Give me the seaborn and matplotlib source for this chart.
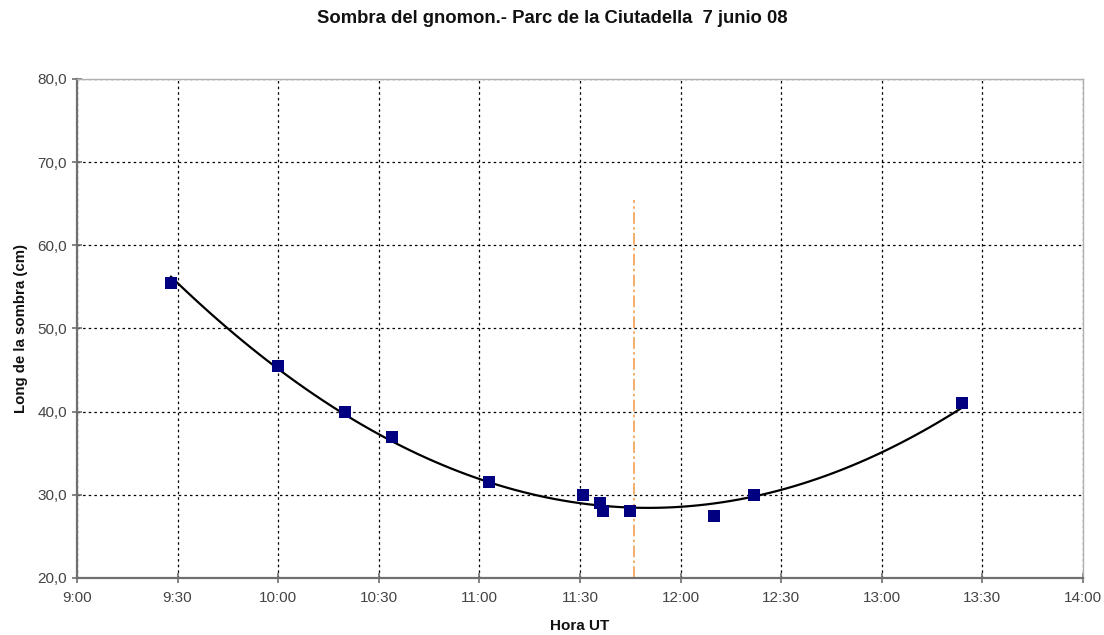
import matplotlib
matplotlib.use("Agg")
import matplotlib.pyplot as plt
import matplotlib.ticker as mticker
import numpy as np
import pandas as pd
import seaborn as sns

# Data (hour UT, shadow length in cm)
times = ["9:28", "10:00", "10:20", "10:34", "11:03", "11:31",
         "11:36", "11:37", "11:45", "12:10", "12:22", "13:24"]
shadow_cm = [55.5, 45.5, 40.0, 37.0, 31.5, 30.0, 29.0, 28.0, 28.0, 27.5, 30.0, 41.0]

noon_time = "11:46"
noon_top = 65.4

x_ticks = ["9:00", "9:30", "10:00", "10:30", "11:00", "11:30",
           "12:00", "12:30", "13:00", "13:30", "14:00"]
y_ticks = [20, 30, 40, 50, 60, 70, 80]


def to_hours(t: str) -> float:
    h, m = t.split(":")
    return int(h) + int(m) / 60


def hour_fmt(v, _pos):
    total = int(round(v * 60))
    return f"{total // 60}:{total % 60:02d}"


df = pd.DataFrame({"hora": [to_hours(t) for t in times], "sombra": shadow_cm})

sns.set_style("white")
plt.rcParams["font.family"] = ["Liberation Sans", "DejaVu Sans"]

fig = plt.figure(figsize=(11.04, 6.35), dpi=100)
ax = fig.add_axes([0.0697, 0.0898, 0.9113, 0.7858])

# Polynomial (order 2) trend line, like the Excel trendline
sns.regplot(data=df, x="hora", y="sombra", order=2, ci=None, scatter=False,
            truncate=True, ax=ax, line_kws={"color": "black", "lw": 1.6, "zorder": 3})

sns.scatterplot(data=df, x="hora", y="sombra", marker="s", s=80, color="#000080",
                edgecolor="#000080", linewidth=0, ax=ax, zorder=4)

noon = to_hours(noon_time)
ax.plot([noon, noon], [y_ticks[0], noon_top], color="#F0A050", lw=1.2,
        linestyle=(0, (7, 2, 1.5, 2)), zorder=2)

ax.set_xlim(to_hours(x_ticks[0]), to_hours(x_ticks[-1]))
ax.set_ylim(y_ticks[0], y_ticks[-1])
ax.set_xticks([to_hours(t) for t in x_ticks])
ax.set_yticks(y_ticks)
ax.xaxis.set_major_formatter(mticker.FuncFormatter(hour_fmt))
ax.yaxis.set_major_formatter(mticker.FuncFormatter(lambda v, p: f"{v:.1f}".replace(".", ",")))

ax.grid(True, color="black", linestyle=(0, (2, 2.5)), linewidth=0.9)
ax.set_axisbelow(True)

for side in ["left", "bottom"]:
    ax.spines[side].set_color("#707070")
    ax.spines[side].set_linewidth(1.6)
for side in ["top", "right"]:
    ax.spines[side].set_color("#b0b0b0")
    ax.spines[side].set_linewidth(1.0)

ax.tick_params(axis="both", which="major", direction="inout", length=7, width=1.2,
               color="#707070", labelsize=11, labelcolor="#444444", left=True, bottom=True)
ax.tick_params(axis="x", pad=6)

ax.set_xlabel("Hora UT", fontsize=11, fontweight="bold", labelpad=10, color="#111111")
ax.set_ylabel("Long de la sombra (cm)", fontsize=10.8, fontweight="bold", labelpad=7,
              color="#111111")
fig.suptitle("Sombra del gnomon.- Parc de la Ciutadella  7 junio 08",
             fontsize=13.3, fontweight="bold", x=0.5, y=0.985, color="#111111")

fig.savefig("out.png", dpi=100, facecolor="white")
